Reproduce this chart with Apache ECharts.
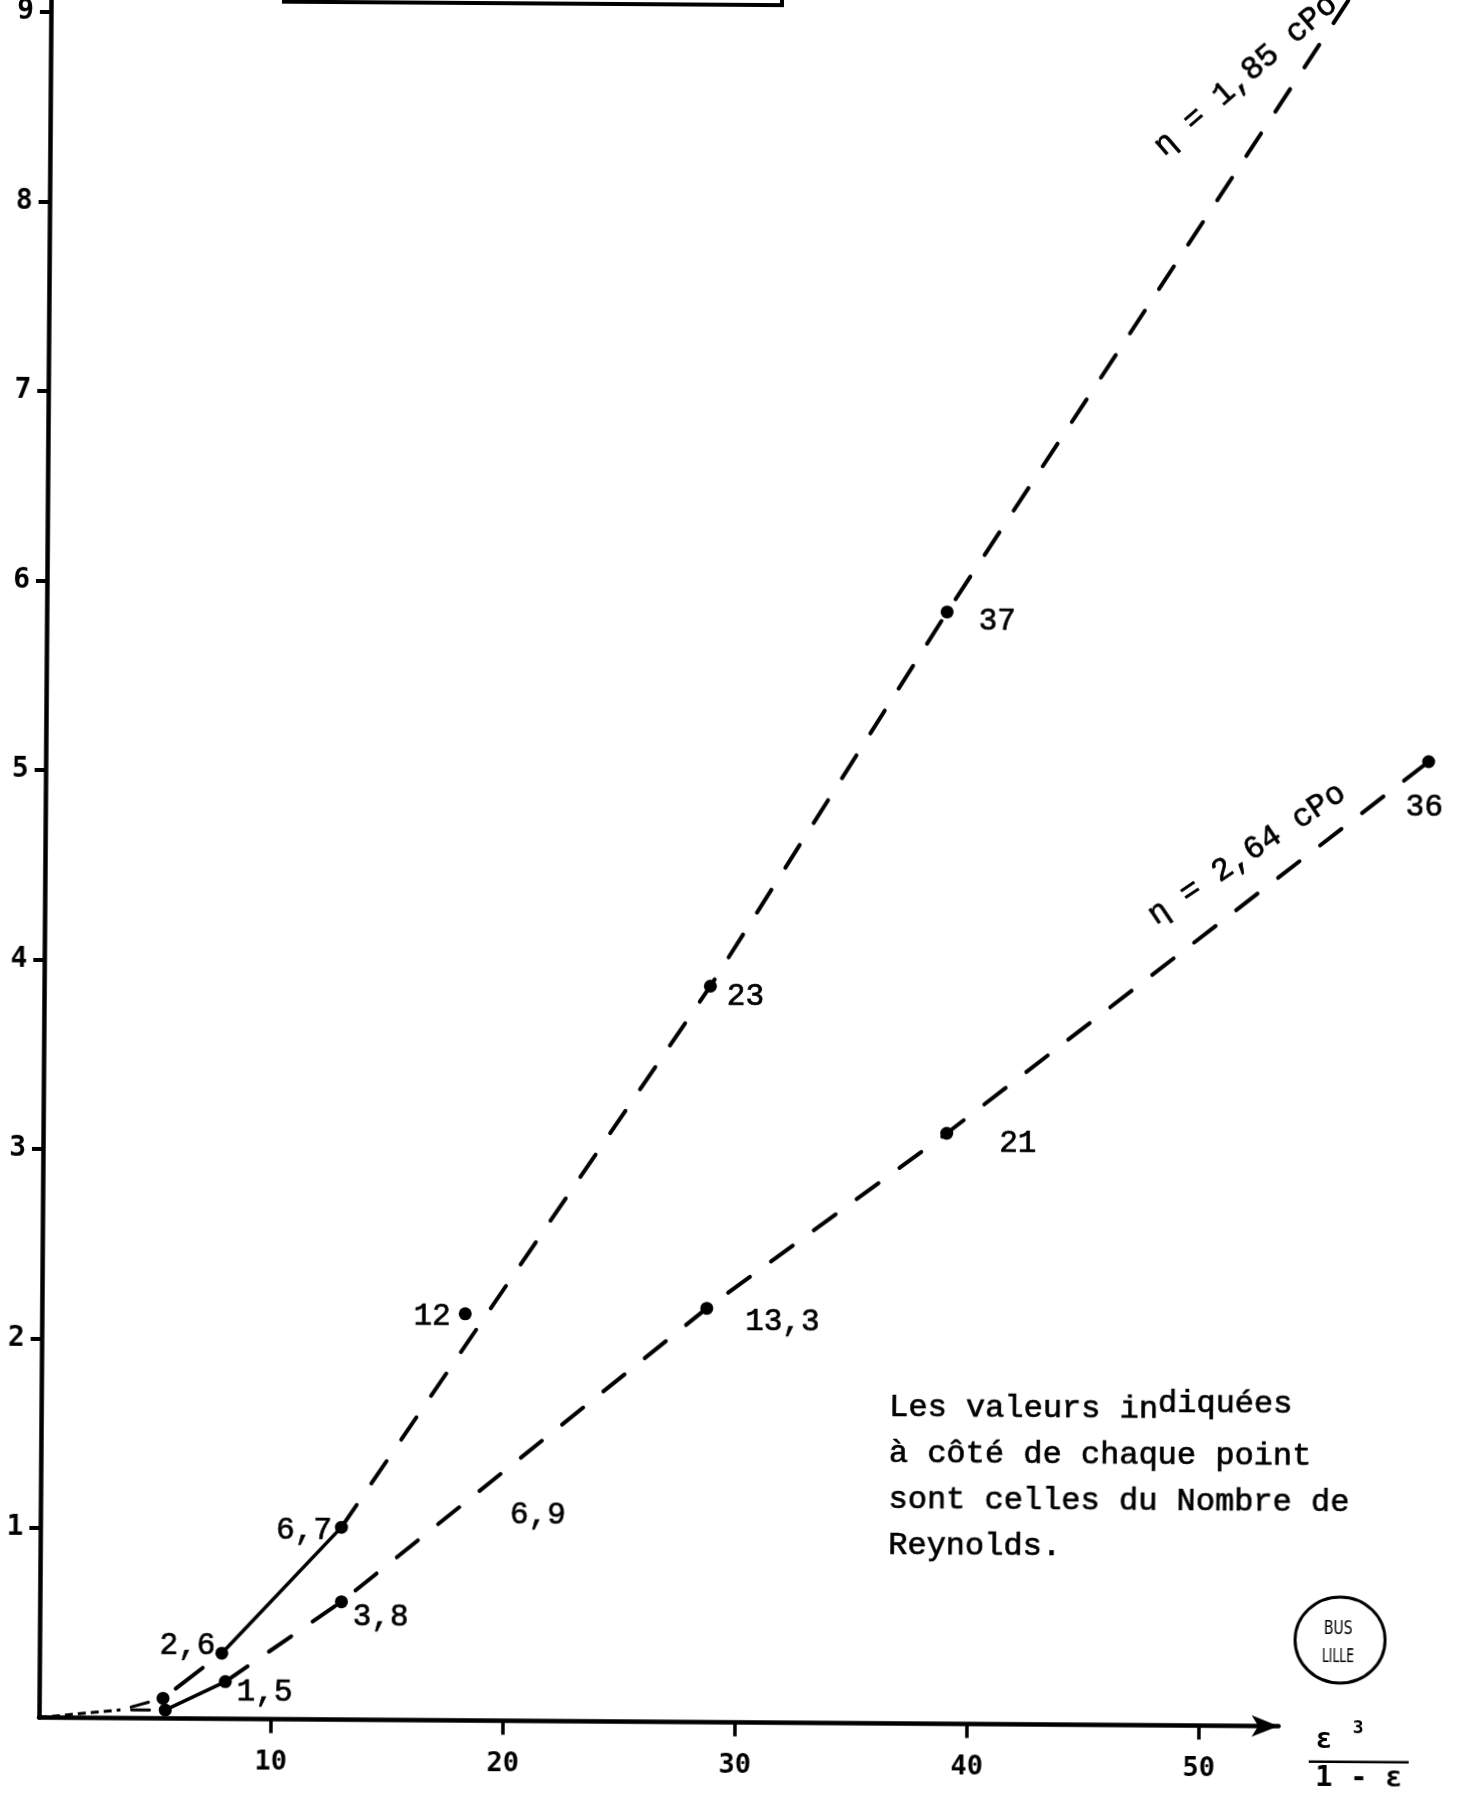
<!DOCTYPE html>
<html><head><meta charset="utf-8">
<script src="https://cdn.jsdelivr.net/npm/echarts@6/dist/echarts.min.js"></script>
<style>
html,body{margin:0;padding:0;background:#fff;overflow:hidden;width:1460px;height:1796px;}
#chart{position:absolute;left:0;top:-50px;width:1460px;height:1846px;transform:rotate(0.4deg);transform-origin:39px 1767.5px;}
</style></head><body><div id="chart"></div>
<script>
// ---- data ----
const trailX = [0, 3.51];
const trailY = [0, 0.043];
const upperX = [5.34, 7.86, 12.98, 18.25, 28.72, 38.81];
const upperY = [0.106, 0.346, 1.015, 2.146, 3.884, 5.867];
const upperRe = ['', '2,6', '6,7', '12', '23', '37'];
const upperEndX = [56.4];
const upperEndY = [9.2];
const lowerX = [5.44, 8.02, 13.0, 19.4, 28.66, 38.95, 59.61];
const lowerY = [0.044, 0.196, 0.622, 1.26, 2.184, 3.116, 5.095];
const lowerRe = ['', '1,5', '3,8', '6,9', '13,3', '21', '36'];
const xTicks = [10, 20, 30, 40, 50];
const yTicks = [1, 2, 3, 4, 5, 6, 7, 8, 9];
const xArrowEnd = 53.43;
const xAxisMax = 61.25;
const yAxisMax = 9.30;
const upperName = 'η = 1,85 cPo';
const lowerName = 'η = 2,64 cPo';
const xTitleTop = 'ε';
const xTitleExp = '3';
const xTitleBottom = '1 - ε';
const noteLines = ['Les valeurs in', 'diquées', 'à côté de chaque point', 'sont celles du Nombre de', 'Reynolds.'];
const stampLines = ['BUS', 'LILLE'];

// ---- styling / layout ----
const INK = '#000';
const MONO = '"Liberation Mono", "DejaVu Sans Mono", monospace';
const TICKF = '"DejaVu Sans Mono", monospace';
const pt = (xs, ys, i) => [xs[i], ys[i]];

function seg(data, lineStyle) {
  return {
    type: 'line', data: data, symbol: 'none', showSymbol: false, clip: false,
    silent: true, animation: false, z: 3, xAxisIndex: 0, yAxisIndex: 0,
    lineStyle: Object.assign({ color: INK, width: 4, cap: 'round', opacity: 1 }, lineStyle)
  };
}
const DASH = [27, 26];

const upperPlace = [null,
  { position: 'left', distance: 0, offset: [0, -7] },
  { position: 'left', distance: 3, offset: [0, 4] },
  { position: 'left', distance: 8, offset: [0, 3] },
  { position: 'right', distance: 10, offset: [0, 10] },
  { position: 'right', distance: 25, offset: [0, 9] }];
const lowerPlace = [null,
  { position: 'right', distance: 5, offset: [0, 10] },
  { position: 'right', distance: 5, offset: [0, 15] },
  { position: 'right', distance: 13, offset: [0, 33] },
  { position: 'right', distance: 32, offset: [0, 13] },
  { position: 'right', distance: 46, offset: [0, 10] },
  { position: 'bottom', distance: 24, offset: [-4, 0] }];
const hiddenDot = [false, false, false, true, false, false, false];

function pointsOf(xs, ys, names, place, hidden) {
  return xs.map((x, i) => {
    const item = { value: [x, ys[i]], name: names[i] };
    if (place[i]) item.label = Object.assign({ show: true }, place[i]);
    if (hidden && hidden[i]) item.itemStyle = { color: 'rgba(0,0,0,0)', opacity: 1 };
    return item;
  });
}

const labelStyle = { show: false, formatter: '{b}', color: INK, fontFamily: MONO, fontSize: 31,
  textBorderColor: INK, textBorderWidth: 0.7, opacity: 1 };

const series = [
  seg([pt(trailX, trailY, 0), pt(trailX, trailY, 1)], { width: 3, type: [8, 5], cap: 'butt' }),
  seg([pt(trailX, trailY, 1), pt(upperX, upperY, 0)], { width: 3, type: [18, 100], dashOffset: -11 }),
  seg([pt(trailX, trailY, 1), pt(lowerX, lowerY, 0)], { width: 3, type: [18, 100], dashOffset: -11 }),
  seg([pt(upperX, upperY, 0), pt(upperX, upperY, 1)], { type: [34, 200], dashOffset: -16 }),
  seg([pt(upperX, upperY, 1), pt(upperX, upperY, 2)], { width: 3.5 }),
  seg([pt(upperX, upperY, 2), pt(upperX, upperY, 4), pt(upperX, upperY, 5), [upperEndX[0], upperEndY[0]]], { type: DASH }),
  seg([pt(lowerX, lowerY, 0), pt(lowerX, lowerY, 1)], { width: 3.5 }),
  seg(lowerX.slice(1).map((x, i) => [x, lowerY[i + 1]]), { type: DASH }),
  { type: 'scatter', name: upperName, symbol: 'circle', symbolSize: 13, clip: false, z: 5,
    xAxisIndex: 0, yAxisIndex: 0,
    itemStyle: { color: INK, opacity: 1 }, label: labelStyle, animation: false,
    data: pointsOf(upperX, upperY, upperRe, upperPlace, null) },
  { type: 'scatter', name: lowerName, symbol: 'circle', symbolSize: 13, clip: false, z: 5,
    xAxisIndex: 0, yAxisIndex: 0,
    itemStyle: { color: INK, opacity: 1 }, label: labelStyle, animation: false,
    data: pointsOf(lowerX, lowerY, lowerRe, lowerPlace, hiddenDot) },
  // empty series that keeps the second (arrow) grid alive
  { type: 'scatter', xAxisIndex: 1, yAxisIndex: 1, data: [], silent: true }
];

const txt = (x, y, text, font, extra) => Object.assign({
  type: 'text', x: x, y: y, silent: true,
  style: { text: text, font: font, fill: INK, stroke: INK, lineWidth: 0.7,
    align: 'left', verticalAlign: 'middle' }
}, extra || {});

const graphic = [
  { type: 'rect', silent: true, shape: { x: 272, y: -80, width: 498, height: 130 },
    style: { fill: null, stroke: INK, lineWidth: 4 } },
  txt(887, 1452, noteLines[0], '32px ' + MONO),
  txt(887 + 268.8, 1446, noteLines[1], '32px ' + MONO),
  txt(887, 1498, noteLines[2], '32px ' + MONO),
  txt(887, 1544, noteLines[3], '32px ' + MONO),
  txt(887, 1590, noteLines[4], '32px ' + MONO),
  txt(1147.4, 192.5, upperName, '32px ' + MONO, { rotation: 0.7156 }),
  txt(1145.5, 960.6, lowerName, '32px ' + MONO, { rotation: 0.597 }),
  { type: 'ellipse', silent: true, shape: { cx: 1339.5, cy: 1680.9, rx: 45, ry: 43 },
    style: { fill: null, stroke: INK, lineWidth: 3 } },
  { type: 'text', x: 1337.5, y: 1669.9, scaleX: 0.7, silent: true,
    style: { text: stampLines[0], font: '20px "DejaVu Sans"', fill: INK, align: 'center', verticalAlign: 'middle' } },
  { type: 'text', x: 1337.5, y: 1697.9, scaleX: 0.62, silent: true,
    style: { text: stampLines[1], font: '20px "DejaVu Sans"', fill: INK, align: 'center', verticalAlign: 'middle' } },
  { type: 'text', x: 1324.2, y: 1781.5, silent: true,
    style: { text: xTitleTop, font: 'bold 28px ' + TICKF, fill: INK, align: 'center', verticalAlign: 'middle' } },
  { type: 'text', x: 1358.1, y: 1769.8, silent: true,
    style: { text: xTitleExp, font: 'bold 18px ' + TICKF, fill: INK, align: 'center', verticalAlign: 'middle' } },
  { type: 'line', silent: true, shape: { x1: 1309, y1: 1802.8, x2: 1409, y2: 1802.8 },
    style: { stroke: INK, lineWidth: 2.5 } },
  { type: 'text', x: 1359.2, y: 1819.8, silent: true,
    style: { text: xTitleBottom, font: 'bold 29px ' + TICKF, fill: INK, align: 'center', verticalAlign: 'middle' } }
];

const GRID_TOP = 1767.5 - yAxisMax * 189.5;

const chart = echarts.init(document.getElementById('chart'), null, { renderer: 'canvas' });
chart.setOption({
  backgroundColor: '#fff',
  animation: false,
  grid: [
    { left: 39, top: GRID_TOP, right: 0, bottom: 78.5, containLabel: false, outerBoundsMode: 'none' },
    { left: 39, top: GRID_TOP, right: 1460 - 39 - xArrowEnd * 23.2, bottom: 78.5, containLabel: false, outerBoundsMode: 'none' }
  ],
  xAxis: [{
    gridIndex: 0, type: 'value', min: 0, max: xAxisMax, interval: 10,
    splitLine: { show: false },
    axisLine: { show: false },
    axisTick: { show: true, length: 14, inside: false, customValues: xTicks,
      lineStyle: { color: INK, width: 3.5 } },
    axisLabel: { show: true, margin: 30, customValues: xTicks, color: INK,
      fontFamily: TICKF, fontSize: 27, fontWeight: 'bold' }
  }, {
    gridIndex: 1, type: 'value', min: 0, max: xArrowEnd, interval: 10,
    splitLine: { show: false },
    axisLine: { show: true, onZero: false, symbol: ['none', 'arrow'], symbolSize: [16, 27],
      lineStyle: { color: INK, width: 4.5 } },
    axisTick: { show: false }, axisLabel: { show: false }
  }],
  yAxis: [{
    gridIndex: 0, type: 'value', min: 0, max: yAxisMax, interval: 1,
    splitLine: { show: false },
    axisLine: { show: true, onZero: false, lineStyle: { color: INK, width: 4.5 } },
    axisTick: { show: true, length: 11, inside: false, customValues: yTicks,
      lineStyle: { color: INK, width: 4 } },
    axisLabel: { show: true, margin: 17, customValues: yTicks, color: INK,
      fontFamily: TICKF, fontSize: 28, fontWeight: 'bold' }
  }, {
    gridIndex: 1, type: 'value', min: 0, max: yAxisMax, interval: 1,
    show: false
  }],
  series: series,
  graphic: graphic
});
</script></body></html>
